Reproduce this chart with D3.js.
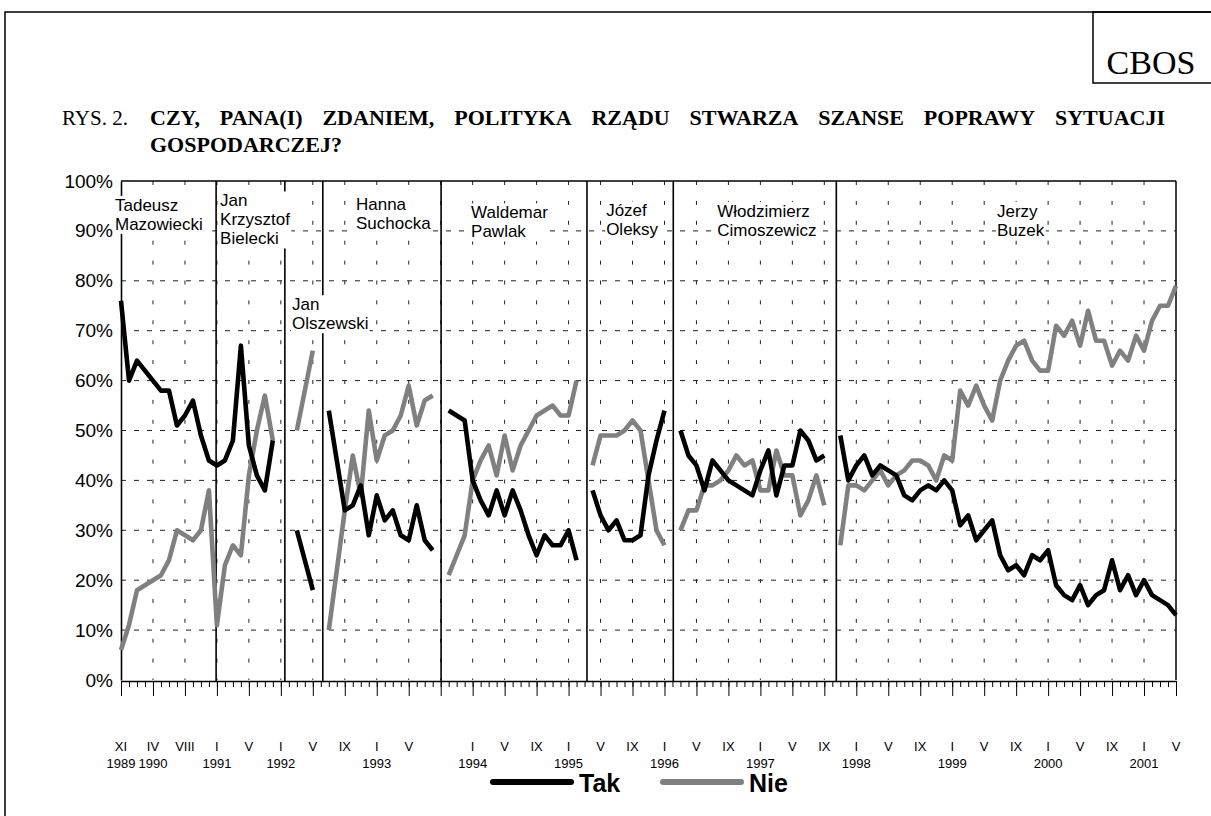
<!DOCTYPE html>
<html>
<head>
<meta charset="utf-8" />
<title>CBOS - Rys. 2</title>
<style>
    body { margin: 0; background: #fff; }
    svg text { font-family: "Liberation Sans", Arial, sans-serif; fill: #000; }
    .serif { font-family: "Liberation Serif", "Times New Roman", serif !important; }
</style>
</head>
<body>
<svg></svg>
<script src="https://d3js.org/d3.v7.min.js"></script>
<script>
    // one value per survey (index 0 = XI 1989 ... 132 = V 2001), null = gap between governments
    let tak = [
        76, 60, 64, 62, 60, 58, 58, 51, 53, 56, 49, 44,
        43, 44, 48, 67, 47, 41, 38, 48,
        null, null,
        30, 24, 18,
        null,
        54, 44, 34, 35, 39, 29, 37, 32, 34, 29, 28, 35, 28, 26,
        null,
        54, 53, 52, 40, 36, 33, 38, 33, 38, 34, 29, 25, 29, 27, 27, 30, 24,
        null,
        38, 33, 30, 32, 28, 28, 29, 41, 48, 54,
        null,
        50, 45, 43, 38, 44, 42, 40, 39, 38, 37, 42, 46, 37, 43, 43, 50, 48, 44, 45,
        null,
        49, 40, 43, 45, 41, 43, 42, 41, 37, 36, 38, 39, 38, 40, 38, 31, 33, 28, 30, 32,
        25, 22, 23, 21, 25, 24, 26, 19, 17, 16, 19, 15, 17, 18, 24, 18, 21, 17, 20, 17,
        16, 15, 13
    ];
    let nie = [
        6, 11, 18, 19, 20, 21, 24, 30, 29, 28, 30, 38,
        11, 23, 27, 25, 41, 50, 57, 48,
        null, null,
        50, 58, 66,
        null,
        10, 22, 34, 45, 37, 54, 44, 49, 50, 53, 59, 51, 56, 57,
        null,
        21, 25, 29, 40, 44, 47, 41, 49, 42, 47, 50, 53, 54, 55, 53, 53, 60,
        null,
        43, 49, 49, 49, 50, 52, 50, 40, 30, 27,
        null,
        30, 34, 34, 39, 39, 40, 42, 45, 43, 44, 38, 38, 46, 41, 41, 33, 36, 41, 35,
        null,
        27, 39, 39, 38, 40, 42, 39, 41, 42, 44, 44, 43, 40, 45, 44, 58, 55, 59, 55, 52,
        60, 64, 67, 68, 64, 62, 62, 71, 69, 72, 67, 74, 68, 68, 63, 66, 64, 69, 66, 72,
        75, 75, 79
    ];

    // labelled ticks, one every 4 surveys
    let monthLabels = ["XI", "IV", "VIII", "I", "V", "I", "V", "IX", "I", "V", "", "I", "V", "IX", "I", "V", "IX",
        "I", "V", "IX", "I", "V", "IX", "I", "V", "IX", "I", "V", "IX", "I", "V", "IX", "I", "V"];
    let yearLabels = ["1989", "1990", "", "1991", "", "1992", "", "", "1993", "", "", "1994", "", "", "1995", "", "",
        "1996", "", "", "1997", "", "", "1998", "", "", "1999", "", "", "2000", "", "", "2001", ""];

    // governments and the survey index where each one begins
    let governments = [
        ["Tadeusz", "Mazowiecki"], ["Jan", "Krzysztof", "Bielecki"], ["Jan", "Olszewski"], ["Hanna", "Suchocka"],
        ["Waldemar", "Pawlak"], ["Józef", "Oleksy"], ["Włodzimierz", "Cimoszewicz"], ["Jerzy", "Buzek"]
    ];
    let governmentStart = [0, 11.9, 20.5, 25.25, 40.05, 58.3, 69.1, 89.5];

    // where the name labels sit: [survey index of left edge, percent of first baseline]
    let labelAt = [[-0.75, 94], [12.4, 94.9], [21.4, 74.1], [29.4, 94.2], [43.8, 92.5], [60.7, 92.9], [74.6, 92.8], [109.6, 92.8]];

    let width = 1211, height = 816;
    let svg = d3.select("svg").attr("width", width).attr("height", height)
        .attr("viewBox", "0 0 " + width + " " + height);

    let x = d3.scaleLinear().domain([0, tak.length - 1]).range([121, 1176]);
    let y = d3.scaleLinear().domain([0, 100]).range([680, 181]);

    // page frame and CBOS box
    svg.append("rect").attr("x", 5).attr("y", 12).attr("width", 1220).attr("height", 820)
        .attr("fill", "none").attr("stroke", "#000").attr("stroke-width", 1.5);
    svg.append("rect").attr("x", 1093).attr("y", 12).attr("width", 130).attr("height", 71)
        .attr("fill", "none").attr("stroke", "#000").attr("stroke-width", 1.5);
    svg.append("text").attr("class", "serif").attr("x", 1151).attr("y", 74)
        .attr("text-anchor", "middle").style("font-size", "34px").text("CBOS");

    // title, first line justified to the right edge
    svg.append("text").attr("class", "serif").attr("x", 62).attr("y", 125)
        .style("font-size", "21px").text("RYS. 2.");
    let words = "CZY, PANA(I) ZDANIEM, POLITYKA RZĄDU STWARZA SZANSE POPRAWY SYTUACJI".split(" ");
    let wt = svg.append("g").selectAll("text").data(words).join("text").attr("class", "serif")
        .attr("y", 125).style("font-size", "22px").style("font-weight", "bold").text(d => d);
    let wlen = [];
    wt.each(function () { wlen.push(this.getComputedTextLength()); });
    let gap = (1165 - 150 - d3.sum(wlen)) / (words.length - 1);
    let cx = 150;
    wt.attr("x", (d, i) => { let p = cx; cx += wlen[i] + gap; return p; });
    svg.append("text").attr("class", "serif").attr("x", 150).attr("y", 152)
        .style("font-size", "22px").style("font-weight", "bold").text("GOSPODARCZEJ?");

    // grid
    let majors = d3.range(0, tak.length, 4);
    svg.append("g").selectAll("line").data(d3.range(10, 100, 10)).join("line")
        .attr("x1", x(0)).attr("x2", x(132)).attr("y1", d => y(d)).attr("y2", d => y(d))
        .attr("stroke", "#222").attr("stroke-width", 1).attr("stroke-dasharray", "5,8");
    svg.append("g").selectAll("line").data(majors.slice(1, -1)).join("line")
        .attr("x1", d => x(d)).attr("x2", d => x(d)).attr("y1", y(100)).attr("y2", y(0))
        .attr("stroke", "#222").attr("stroke-width", 1).attr("stroke-dasharray", "4,15.9");

    // plot frame: top and right
    svg.append("line").attr("x1", x(0)).attr("x2", x(132)).attr("y1", y(100)).attr("y2", y(100))
        .attr("stroke", "#000").attr("stroke-width", 1.5);
    svg.append("line").attr("x1", x(132)).attr("x2", x(132)).attr("y1", y(100)).attr("y2", y(0))
        .attr("stroke", "#000").attr("stroke-width", 1.5);

    // government dividers
    svg.append("g").selectAll("line").data(governmentStart.slice(1)).join("line")
        .attr("x1", d => x(d)).attr("x2", d => x(d)).attr("y1", y(100)).attr("y2", y(0) + 1)
        .attr("stroke", "#000").attr("stroke-width", 1.6);

    // axes
    let yAxis = svg.append("g").attr("transform", "translate(" + x(0) + ",0)")
        .call(d3.axisLeft(y).tickValues(d3.range(0, 101, 10)).tickSize(0).tickPadding(8).tickFormat(d => d + "%"));
    yAxis.select(".domain").attr("stroke-width", 1.6);
    yAxis.selectAll("text").style("font-size", "19px");

    let xMinor = svg.append("g").attr("transform", "translate(0," + (y(0) + 1) + ")")
        .call(d3.axisBottom(x).tickValues(d3.range(tak.length)).tickSize(6).tickSizeOuter(0).tickFormat(""));
    xMinor.select(".domain").attr("stroke-width", 1.6);
    svg.append("g").attr("transform", "translate(0," + (y(0) + 1) + ")")
        .call(d3.axisBottom(x).tickValues(majors).tickSize(15).tickSizeOuter(0).tickFormat(""))
        .select(".domain").remove();

    let xl = svg.append("g").style("font-size", "13px");
    xl.selectAll(".m").data(majors).join("text").attr("class", "m")
        .attr("x", d => x(d)).attr("y", 751).attr("text-anchor", "middle")
        .text((d, i) => monthLabels[i]);
    xl.selectAll(".yr").data(majors).join("text").attr("class", "yr")
        .attr("x", d => x(d)).attr("y", 768).attr("text-anchor", "middle")
        .text((d, i) => yearLabels[i]);

    // government labels with white background
    let lab = svg.append("g").style("font-size", "17px");
    governments.forEach((lines, g) => {
        let gg = lab.append("g");
        let bg = gg.append("rect").attr("fill", "#fff");
        let t = gg.append("text").attr("x", x(labelAt[g][0])).attr("y", y(labelAt[g][1]));
        lines.forEach((s, k) => {
            t.append("tspan").attr("x", x(labelAt[g][0])).attr("dy", k == 0 ? 0 : 19).text(s);
        });
        let b = t.node().getBBox();
        bg.attr("x", b.x - 1).attr("y", b.y).attr("width", b.width + 2).attr("height", b.height);
    });

    // series
    let line = d3.line().defined(d => d != null).x((d, i) => x(i)).y(d => y(d));
    svg.append("path").datum(nie).attr("d", line).attr("fill", "none")
        .attr("stroke", "#808080").attr("stroke-width", 4.6).attr("stroke-linejoin", "round");
    svg.append("path").datum(tak).attr("d", line).attr("fill", "none")
        .attr("stroke", "#000").attr("stroke-width", 4.6).attr("stroke-linejoin", "round");

    // legend
    let legend = [["Tak", "#000", 493], ["Nie", "#808080", 663]];
    let lg = svg.append("g");
    legend.forEach(l => {
        lg.append("line").attr("x1", l[2]).attr("x2", l[2] + 78).attr("y1", 782).attr("y2", 782)
            .attr("stroke", l[1]).attr("stroke-width", 6).attr("stroke-linecap", "round");
        lg.append("text").attr("x", l[2] + 86).attr("y", 792)
            .style("font-size", "25px").style("font-weight", "bold").text(l[0]);
    });
</script>
</body>
</html>
